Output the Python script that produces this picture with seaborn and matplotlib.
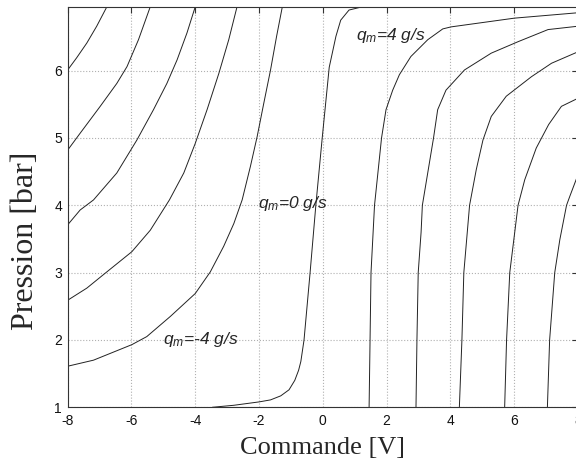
import numpy as np
import pandas as pd
import seaborn as sns
import matplotlib.pyplot as plt

# iso-flow curves: (commande [V], pression [bar])
l1_x = [-8.0, -7.72, -7.40, -7.09, -6.77]
l1_y = [6.01, 6.19, 6.41, 6.66, 6.95]
l2_x = [-8.0, -7.61, -6.98, -6.46, -6.14, -5.78, -5.41]
l2_y = [4.82, 5.07, 5.47, 5.81, 6.06, 6.46, 6.95]
l3_x = [-8.0, -7.61, -7.19, -6.46, -5.83, -5.31, -4.89, -4.57, -4.26, -4.0]
l3_y = [3.71, 3.93, 4.08, 4.48, 4.97, 5.42, 5.81, 6.16, 6.56, 6.95]
l4_x = [-8.0, -7.40, -6.88, -5.99, -5.41, -4.81, -4.36, -4.0, -3.63, -3.26, -2.95, -2.69]
l4_y = [2.59, 2.77, 2.97, 3.31, 3.63, 4.08, 4.48, 4.92, 5.42, 5.96, 6.46, 6.95]
l5_x = [-8.0, -7.19, -5.99, -5.52, -4.78, -4.0, -3.53, -3.11, -2.79, -2.53, -2.27,
        -2.06, -1.85, -1.64, -1.45, -1.27]
l5_y = [1.61, 1.70, 1.93, 2.05, 2.35, 2.69, 3.01, 3.39, 3.73, 4.08, 4.58,
        5.02, 5.52, 6.01, 6.51, 6.95]
l6_x = [-3.47, -2.79, -2.0, -1.64, -1.32, -1.06, -0.88, -0.76, -0.69, -0.59, -0.40,
        -0.22, -0.02, 0.20, 0.41, 0.56, 0.82, 1.25]
l6_y = [1.0, 1.03, 1.08, 1.11, 1.17, 1.26, 1.40, 1.55, 1.68, 2.0, 3.0,
        4.0, 5.0, 6.05, 6.51, 6.75, 6.90, 6.95]
r1_x = [1.45, 1.48, 1.51, 1.62, 1.84, 1.98, 2.19, 2.40, 2.76, 3.29, 3.76, 4.02, 6.01, 8.0]
r1_y = [1.0, 2.0, 3.0, 4.0, 5.0, 5.42, 5.71, 5.94, 6.21, 6.46, 6.62, 6.65, 6.78, 6.86]
r2_x = [2.92, 2.95, 2.99, 3.08, 3.12, 3.47, 3.60, 3.86, 4.44, 5.28, 6.12, 7.06, 8.0]
r2_y = [1.0, 2.0, 3.0, 3.6, 4.0, 5.0, 5.42, 5.71, 6.01, 6.26, 6.43, 6.61, 6.66]
r3_x = [4.28, 4.36, 4.42, 4.60, 4.81, 5.02, 5.28, 5.75, 6.54, 7.17, 8.0]
r3_y = [1.0, 2.0, 3.0, 4.0, 4.53, 4.97, 5.32, 5.62, 5.91, 6.11, 6.28]
r4_x = [5.70, 5.76, 5.86, 6.12, 6.33, 6.69, 7.08, 7.48, 8.0]
r4_y = [1.0, 2.0, 3.0, 4.0, 4.38, 4.85, 5.20, 5.47, 5.59]
r5_x = [7.04, 7.11, 7.27, 7.43, 7.64, 7.74, 7.98]
r5_y = [1.0, 2.0, 3.0, 3.49, 4.0, 4.13, 4.43]

curves = [(l1_x, l1_y), (l2_x, l2_y), (l3_x, l3_y), (l4_x, l4_y), (l5_x, l5_y),
          (l6_x, l6_y), (r1_x, r1_y), (r2_x, r2_y), (r3_x, r3_y), (r4_x, r4_y),
          (r5_x, r5_y)]

labels = ['$q_m$=4 g/s', '$q_m$=0 g/s', '$q_m$=-4 g/s']
label_x = [1.04, -2.02, -5.0]
label_y = [6.52, 4.02, 2.0]

sns.set_style('white')
plt.rcParams['font.family'] = ['Liberation Sans', 'DejaVu Sans']
plt.rcParams['axes.unicode_minus'] = False
plt.rcParams['mathtext.fontset'] = 'custom'
plt.rcParams['mathtext.it'] = 'Liberation Sans:italic'
plt.rcParams['mathtext.rm'] = 'Liberation Sans:italic'

fig = plt.figure(figsize=(5.76, 4.61), dpi=100)
ax = fig.add_axes([0.1175, 0.1165, 0.886, 0.869])

for cx, cy in curves:
    sns.lineplot(x=cx, y=cy, sort=False, estimator=None, color='#222222',
                 linewidth=0.7, ax=ax)

for t, tx, ty in zip(labels, label_x, label_y):
    ax.text(tx, ty, t, fontsize=12.5, style='italic', va='center', ha='left')

ax.set_xlim(-8, 8)
ax.set_ylim(1, 6.95)
ax.set_xticks(np.arange(-8, 9, 2))
ax.set_yticks(np.arange(1, 7, 1))
ax.grid(True, linestyle=':', color='#b0b0b0', linewidth=0.8)
ax.tick_params(direction='in', top=True, right=True, length=4, labelsize=10,
               color='#333333', labelcolor='#111111')
ax.tick_params(axis='x', pad=5)
ax.tick_params(axis='y', pad=4)
for s in ax.spines.values():
    s.set_color('#333333')
    s.set_linewidth(0.8)

ax.set_xlabel('Commande [V]', family='Liberation Serif', fontsize=19, labelpad=6)
ax.set_ylabel('Pression [bar]', family='Liberation Serif', fontsize=23)
ax.yaxis.set_label_coords(-0.054, 0.415)

fig.savefig('out.png', dpi=100)
